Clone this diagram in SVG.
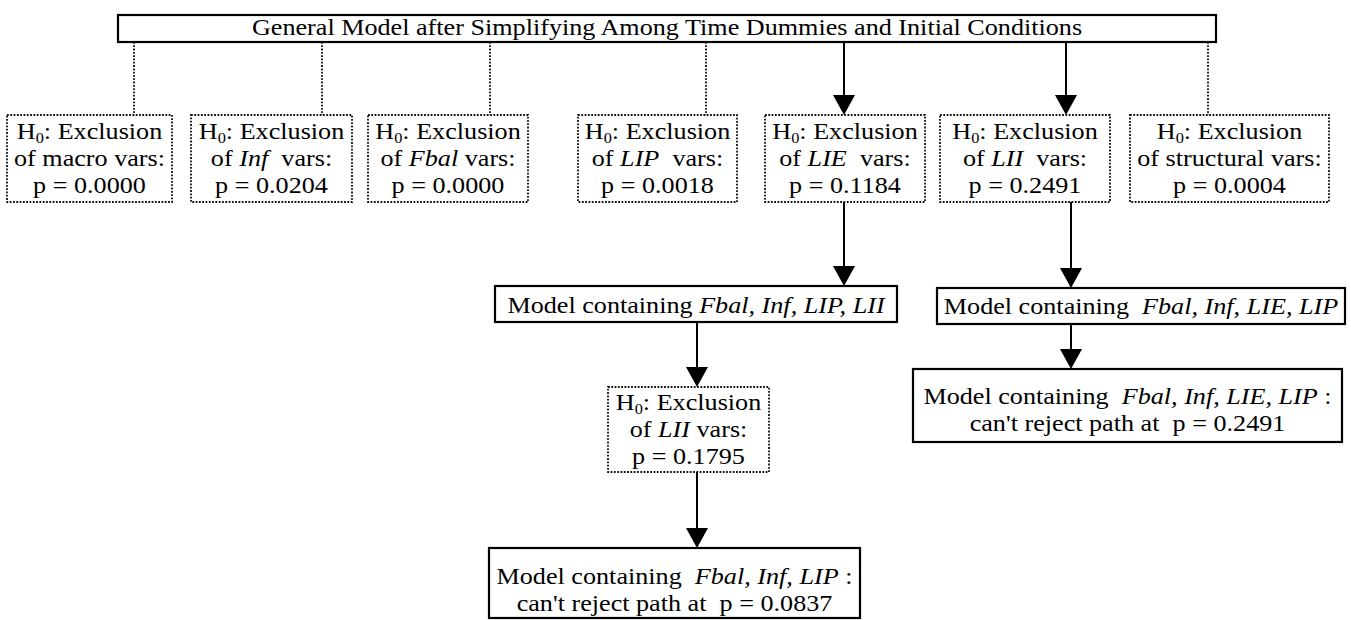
<svg xmlns="http://www.w3.org/2000/svg" width="1351" height="620" viewBox="0 0 1351 620">
  <defs>
    <style>
      text { font-family: "Liberation Serif", "Times New Roman", serif; font-size: 24px; fill: #000; text-anchor: middle; white-space: pre; }
      .it { font-style: italic; }
      .sub { font-size: 15px; }
      .solid { fill: #fff; stroke: #000; stroke-width: 2.2; }
      .dot { fill: #fff; stroke: #111; stroke-width: 1.8; stroke-dasharray: 1.8 1.5; }
      .link { fill: none; stroke: #000; stroke-width: 2; }
      .dlink { fill: none; stroke: #111; stroke-width: 1.8; stroke-dasharray: 1.8 1.5; }
    </style>
    <!-- solid arrowhead, tip sits 10px beyond the path end -->
    <marker id="head" viewBox="0 0 20 22" refX="10" refY="11" markerWidth="20" markerHeight="22" markerUnits="userSpaceOnUse" orient="auto">
      <path d="M0,0 L20,11 L0,22 Z" fill="#000"/>
    </marker>
  </defs>

  <!-- connectors -->
  <g id="connectors">
    <line class="dlink" x1="134" y1="42" x2="134" y2="115"/>
    <line class="dlink" x1="322" y1="42" x2="322" y2="115"/>
    <line class="dlink" x1="490" y1="42" x2="490" y2="115"/>
    <line class="dlink" x1="706" y1="42" x2="706" y2="115"/>
    <line class="dlink" x1="1208" y1="42" x2="1208" y2="115"/>
    <path class="link" d="M844,42 V105" marker-end="url(#head)"/>
    <path class="link" d="M1066,42 V105" marker-end="url(#head)"/>
    <path class="link" d="M844,202 V276" marker-end="url(#head)"/>
    <path class="link" d="M1071,202 V278" marker-end="url(#head)"/>
    <path class="link" d="M697,322 V377" marker-end="url(#head)"/>
    <path class="link" d="M697,472 V538" marker-end="url(#head)"/>
    <path class="link" d="M1071,324 V359" marker-end="url(#head)"/>
  </g>

  <!-- root model -->
  <g id="general">
    <rect class="solid" x="118" y="15" width="1098" height="27"/>
    <text transform="translate(667 0) scale(1.09 1)" x="0" y="35">General Model after Simplifying Among Time Dummies and Initial Conditions</text>
  </g>

  <!-- first-round exclusion tests -->
  <g id="test-macro">
    <rect class="dot" x="7" y="115" width="165" height="87"/>
    <g transform="translate(89.5 0) scale(1.09 1)">
      <text x="0" y="139">H<tspan class="sub" dy="4">0</tspan><tspan dy="-4">: Exclusion</tspan></text>
      <text x="0" y="166">of macro vars:</text>
      <text x="0" y="193">p = 0.0000</text>
    </g>
  </g>
  <g id="test-inf">
    <rect class="dot" x="191" y="115" width="161" height="87"/>
    <g transform="translate(271.5 0) scale(1.09 1)">
      <text x="0" y="139">H<tspan class="sub" dy="4">0</tspan><tspan dy="-4">: Exclusion</tspan></text>
      <text x="0" y="166">of <tspan class="it">Inf</tspan>  vars:</text>
      <text x="0" y="193">p = 0.0204</text>
    </g>
  </g>
  <g id="test-fbal">
    <rect class="dot" x="368" y="115" width="160" height="87"/>
    <g transform="translate(448 0) scale(1.09 1)">
      <text x="0" y="139">H<tspan class="sub" dy="4">0</tspan><tspan dy="-4">: Exclusion</tspan></text>
      <text x="0" y="166">of <tspan class="it">Fbal</tspan> vars:</text>
      <text x="0" y="193">p = 0.0000</text>
    </g>
  </g>
  <g id="test-lip">
    <rect class="dot" x="578" y="115" width="159" height="87"/>
    <g transform="translate(657.5 0) scale(1.09 1)">
      <text x="0" y="139">H<tspan class="sub" dy="4">0</tspan><tspan dy="-4">: Exclusion</tspan></text>
      <text x="0" y="166">of <tspan class="it">LIP</tspan>  vars:</text>
      <text x="0" y="193">p = 0.0018</text>
    </g>
  </g>
  <g id="test-lie">
    <rect class="dot" x="765" y="115" width="160" height="87"/>
    <g transform="translate(845 0) scale(1.09 1)">
      <text x="0" y="139">H<tspan class="sub" dy="4">0</tspan><tspan dy="-4">: Exclusion</tspan></text>
      <text x="0" y="166">of <tspan class="it">LIE</tspan>  vars:</text>
      <text x="0" y="193">p = 0.1184</text>
    </g>
  </g>
  <g id="test-lii">
    <rect class="dot" x="940" y="115" width="170" height="87"/>
    <g transform="translate(1025 0) scale(1.09 1)">
      <text x="0" y="139">H<tspan class="sub" dy="4">0</tspan><tspan dy="-4">: Exclusion</tspan></text>
      <text x="0" y="166">of <tspan class="it">LII</tspan>  vars:</text>
      <text x="0" y="193">p = 0.2491</text>
    </g>
  </g>
  <g id="test-structural">
    <rect class="dot" x="1130" y="115" width="199" height="87"/>
    <g transform="translate(1229.5 0) scale(1.09 1)">
      <text x="0" y="139">H<tspan class="sub" dy="4">0</tspan><tspan dy="-4">: Exclusion</tspan></text>
      <text x="0" y="166">of structural vars:</text>
      <text x="0" y="193">p = 0.0004</text>
    </g>
  </g>

  <!-- left branch -->
  <g id="model-left">
    <rect class="solid" x="495" y="286" width="402" height="36"/>
    <text transform="translate(696 0) scale(1.09 1)" x="0" y="313">Model containing <tspan class="it">Fbal, Inf, LIP, LII</tspan></text>
  </g>
  <g id="test-lii-2">
    <rect class="dot" x="608" y="387" width="161" height="85"/>
    <g transform="translate(688.5 0) scale(1.09 1)">
      <text x="0" y="410">H<tspan class="sub" dy="4">0</tspan><tspan dy="-4">: Exclusion</tspan></text>
      <text x="0" y="437">of <tspan class="it">LII</tspan> vars:</text>
      <text x="0" y="464">p = 0.1795</text>
    </g>
  </g>
  <g id="final-left">
    <rect class="solid" x="489" y="548" width="371" height="70"/>
    <g transform="translate(674.5 0) scale(1.09 1)">
      <text x="0" y="584">Model containing  <tspan class="it">Fbal, Inf, LIP</tspan> :</text>
      <text x="0" y="611">can't reject path at  p = 0.0837</text>
    </g>
  </g>

  <!-- right branch -->
  <g id="model-right">
    <rect class="solid" x="937" y="288" width="408" height="36"/>
    <text transform="translate(1141 0) scale(1.09 1)" x="0" y="314">Model containing  <tspan class="it">Fbal, Inf, LIE, LIP</tspan></text>
  </g>
  <g id="final-right">
    <rect class="solid" x="913" y="369" width="429" height="73"/>
    <g transform="translate(1127.5 0) scale(1.09 1)">
      <text x="0" y="404">Model containing  <tspan class="it">Fbal, Inf, LIE, LIP</tspan> :</text>
      <text x="0" y="431">can't reject path at  p = 0.2491</text>
    </g>
  </g>
</svg>
